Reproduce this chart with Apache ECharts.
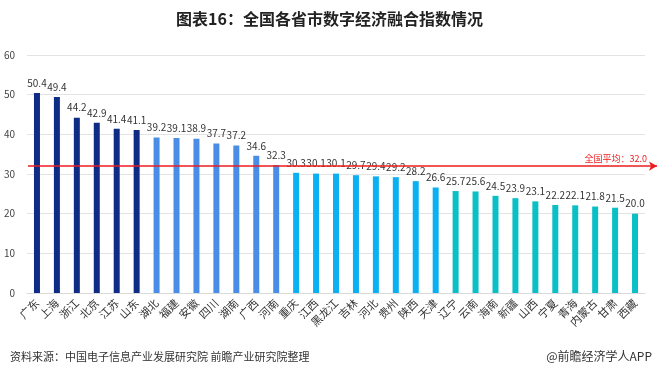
<!DOCTYPE html>
<html><head><meta charset="utf-8">
<script src="https://cdn.jsdelivr.net/npm/echarts@6/dist/echarts.min.js"></script>
<style>html,body{margin:0;padding:0;background:#fff}#c{width:659px;height:379px}</style>
</head><body><div id="c"></div>
<script>
const provinces = ['广东','上海','浙江','北京','江苏','山东','湖北','福建','安徽','四川','湖南','广西','河南','重庆','江西','黑龙江','吉林','河北','贵州','陕西','天津','辽宁','云南','海南','新疆','山西','宁夏','青海','内蒙古','甘肃','西藏'];
const values = [50.4,49.4,44.2,42.9,41.4,41.1,39.2,39.1,38.9,37.7,37.2,34.6,32.3,30.3,30.1,30.1,29.7,29.4,29.2,28.2,26.6,25.7,25.6,24.5,23.9,23.1,22.2,22.1,21.8,21.5,20.0];
const groups = [0,0,0,0,0,0,1,1,1,1,1,1,1,2,2,2,2,2,2,2,2,3,3,3,3,3,3,3,3,3,3];
const groupColors = ['#0e2b86','#4a8de6','#0ab0f2','#0abfc6'];
const nationalAvg = 32.0;
const yTicks = [0,10,20,30,40,50,60];
const titleText = '图表16：全国各省市数字经济融合指数情况';
const sourceText = '资料来源：中国电子信息产业发展研究院 前瞻产业研究院整理';
const brandText = '@前瞻经济学人APP';

const FONT = '"Noto Sans CJK SC", "Liberation Sans", sans-serif';
const chart = echarts.init(document.getElementById('c'));
chart.setOption({
  animation: false,
  textStyle: {fontFamily: FONT},
  title: [
    {text: titleText, left: 'center', top: 6, textStyle: {fontSize: 16, fontWeight: 'bold', color: '#222', fontFamily: FONT}},
    {text: sourceText, left: 5, top: 346, textStyle: {fontSize: 11, fontWeight: 'normal', color: '#333', fontFamily: FONT}},
    {text: brandText, right: 2, top: 345, textStyle: {fontSize: 12, fontWeight: 'normal', color: '#333', fontFamily: FONT}}
  ],
  grid: {left: 27, right: 14, top: 55, bottom: 86},
  xAxis: {
    type: 'category', data: provinces,
    axisLine: {lineStyle: {color: '#d9d9d9'}},
    axisTick: {show: false},
    axisLabel: {rotate: 45, interval: 0, fontSize: 11, color: '#333', margin: 8, fontFamily: FONT}
  },
  yAxis: {
    type: 'value', min: yTicks[0], max: yTicks[yTicks.length-1], interval: 10,
    axisLine: {show: false}, axisTick: {show: false},
    axisLabel: {fontSize: 10, color: '#444', margin: 12},
    splitLine: {lineStyle: {color: '#e3e3e3'}}
  },
  series: [{
    type: 'bar', barWidth: 6,
    data: values.map((v, i) => ({value: v, itemStyle: {color: groupColors[groups[i]]}})),
    label: {show: true, position: 'top', distance: 5, fontSize: 10, color: '#333', formatter: p => p.value.toFixed(1)}
  }]
});
const yPix = chart.convertToPixel({gridIndex: 0}, [0, nationalAvg])[1];
chart.setOption({
  series: [{
    markLine: {
      silent: true, symbol: ['none', 'arrow'], symbolSize: [7, 8],
      lineStyle: {color: '#ee1c1c', width: 1.5, type: 'solid'},
      label: {show: true, position: 'insideEndTop', distance: [10, 3], color: '#ee1c1c', fontSize: 9,
        formatter: '全国平均：' + nationalAvg.toFixed(1)},
      data: [[{x: 28, y: yPix}, {x: 657, y: yPix}]]
    }
  }]
});
</script></body></html>
